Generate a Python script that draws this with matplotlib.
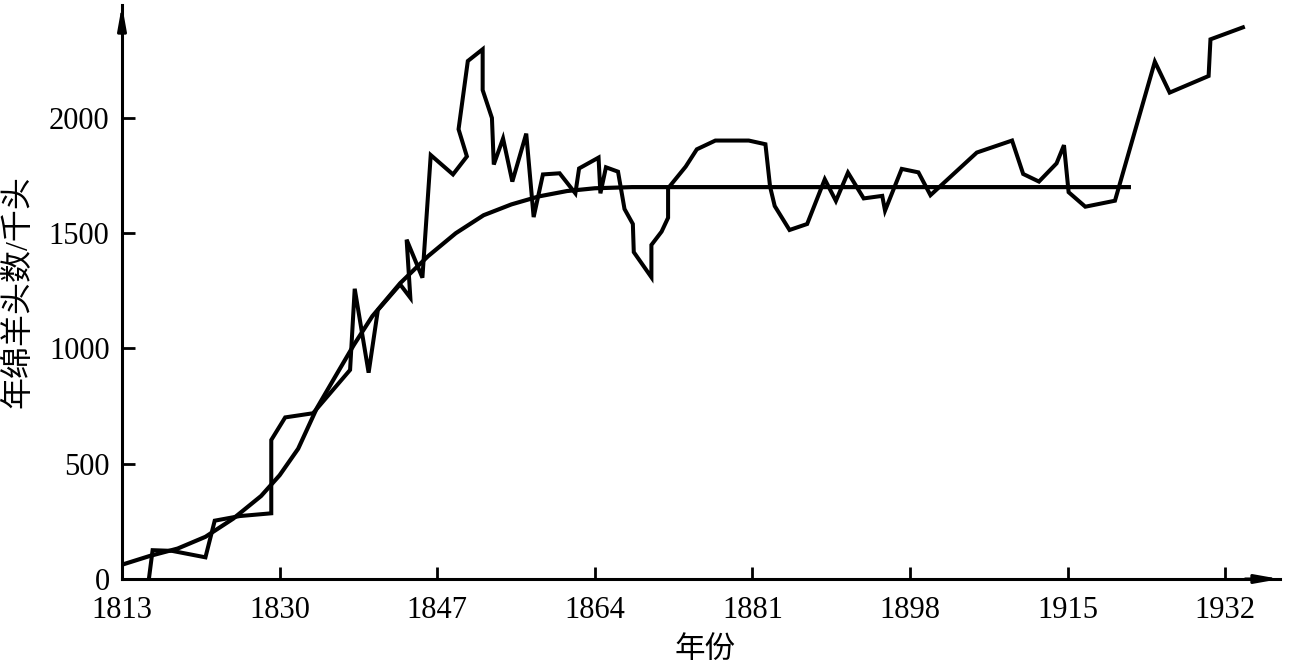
import matplotlib.pyplot as plt

plt.rcParams['font.family'] = ['Liberation Serif', 'Noto Sans CJK SC']

# 年绵羊头数 (千头)
years = [1815.9, 1816.3, 1818.4, 1822.0, 1823.0, 1825.7, 1829.1, 1829.1, 1830.6, 1833.6,
         1837.6, 1838.1, 1839.6, 1840.6, 1843.0, 1844.1, 1843.7, 1845.4, 1846.3, 1848.7,
         1850.2, 1849.3, 1850.3, 1851.9, 1851.9, 1852.9, 1853.1, 1854.1, 1855.1, 1856.6,
         1857.4, 1858.4, 1860.2, 1861.9, 1862.3, 1864.4, 1864.6, 1865.2, 1866.5, 1867.2,
         1868.1, 1868.2, 1870.1, 1870.1, 1871.2, 1871.9, 1871.9, 1873.8, 1875.0, 1877.0,
         1880.6, 1882.4, 1882.9, 1883.4, 1885.0, 1886.9, 1888.8, 1890.0, 1891.3, 1893.0,
         1895.0, 1895.3, 1897.1, 1898.9, 1900.2, 1905.2, 1909.0, 1910.2, 1911.9, 1913.8,
         1914.6, 1915.1, 1916.9, 1920.1, 1924.4, 1926.0, 1930.2, 1930.4, 1933.9]
sheep = [0, 125, 122, 94, 253, 273, 285, 603, 701, 719,
         907, 1259, 895, 1167, 1278, 1220, 1472, 1307, 1839, 1755,
         1833, 1951, 2247, 2298, 2121, 2000, 1798, 1911, 1724, 1932,
         1570, 1755, 1760, 1673, 1781, 1828, 1673, 1786, 1767, 1605,
         1540, 1418, 1309, 1449, 1507, 1567, 1695, 1789, 1864, 1902,
         1902, 1886, 1702, 1618, 1514, 1540, 1734, 1640, 1763, 1651,
         1662, 1598, 1779, 1764, 1665, 1850, 1902, 1757, 1724, 1803,
         1882, 1678, 1615, 1641, 2244, 2110, 2182, 2341, 2393]

# smooth trend curve
curve_years = [1813, 1816, 1819, 1822, 1825, 1828, 1830, 1832, 1834, 1836, 1838,
               1840, 1843, 1846, 1849, 1852, 1855, 1858, 1861, 1864, 1868, 1921.6]
curve_vals = [62, 100, 132, 183, 262, 360, 450, 565, 740, 878, 1015,
              1140, 1283, 1400, 1500, 1578, 1625, 1660, 1683, 1695, 1700, 1700]

xticks = [1813, 1830, 1847, 1864, 1881, 1898, 1915, 1932]
yticks = [0, 500, 1000, 1500, 2000]

fig = plt.figure(figsize=(12.93, 6.64), dpi=100)
ax = fig.add_axes([122/1293, 85/664, (1280-122)/1293, (579-5)/664])

ax.plot(years, sheep, color='black', lw=2.9, solid_joinstyle='miter')
ax.plot(curve_years, curve_vals, color='black', lw=3.0)

ax.set_xlim(1813, 1937.9)
ax.set_ylim(0, 2490)
ax.set_xticks(xticks)
ax.set_yticks(yticks)
ax.tick_params(direction='in', length=9, width=2, labelsize=22, pad=9)
ax.tick_params(axis='x', pad=12)

for s in ['top', 'right']:
    ax.spines[s].set_visible(False)
for s in ['left', 'bottom']:
    ax.spines[s].set_linewidth(2.2)

# arrow heads on the axes
ax.annotate('', xy=(1, 0), xytext=(0.97, 0), xycoords='axes fraction',
            arrowprops=dict(arrowstyle='-|>,head_length=1.4,head_width=0.25',
                            color='black', lw=2.2, shrinkA=0, shrinkB=0))
ax.annotate('', xy=(0, 1), xytext=(0, 0.95), xycoords='axes fraction',
            arrowprops=dict(arrowstyle='-|>,head_length=1.4,head_width=0.25',
                            color='black', lw=2.2, shrinkA=0, shrinkB=0))

fig.text(18/1293, 1 - 292/664, '年绵羊头数/千头', rotation=90, fontsize=23,
         ha='center', va='center')
fig.text(705/1293, 1 - 650/664, '年份', fontsize=22, ha='center', va='center')

fig.savefig('out.png', dpi=100)
